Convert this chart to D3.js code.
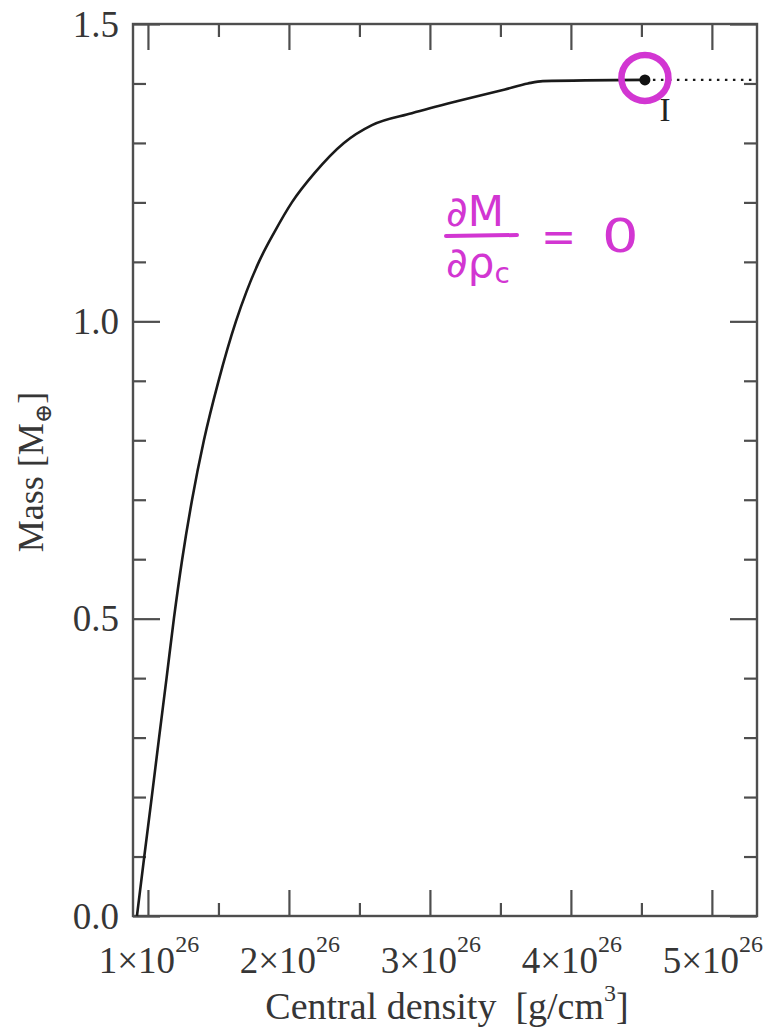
<!DOCTYPE html>
<html>
<head>
<meta charset="utf-8">
<script src="https://cdn.jsdelivr.net/npm/d3@7"></script>
<style>
  body { margin: 0; background: #fff; }
  svg { display: block; }
</style>
</head>
<body>
<svg id="chart" width="767" height="1033"></svg>
<script>
// Mass of the star versus its central density (density in units of 1e26 g/cm^3)
const densities = [0.922, 0.974, 1.027, 1.079, 1.132, 1.184, 1.243, 1.313, 1.397, 1.501,
                   1.624, 1.699, 1.787, 1.897, 2.021, 2.184, 2.390, 2.589, 2.872, 3.191,
                   3.532, 3.695, 3.801, 4.525];
const masses    = [0.000, 0.100, 0.200, 0.300, 0.400, 0.500, 0.600, 0.700, 0.800, 0.900,
                   1.000, 1.050, 1.100, 1.150, 1.200, 1.250, 1.300, 1.330, 1.350, 1.370,
                   1.390, 1.400, 1.404, 1.406];

// Maximum-mass point and the dotted continuation beyond it
const peakDensity = [4.525];
const peakMass = [1.406];
const continuationDensity = [4.525, 5.32];

const xMajorTicks = [1, 2, 3, 4, 5];
const xMinorTicks = [1.5, 2.5, 3.5, 4.5];
const yMajorTicks = [0, 0.5, 1.0, 1.5];
const yMinorTicks = [0.1, 0.2, 0.3, 0.4, 0.6, 0.7, 0.8, 0.9, 1.1, 1.2, 1.3, 1.4];

const plotLeft = 133, plotRight = 757, plotTop = 24, plotBottom = 916;
const axisColor = "#4e4e4e";
const textColor = "#363636";
const ink = "#d236d2";
const serif = "'Liberation Serif', 'DejaVu Serif', serif";

const svg = d3.select("#chart");

const x = d3.scaleLinear().domain([0.894, 5.32]).range([plotLeft, plotRight]);
const y = d3.scaleLinear().domain([0, 1.5]).range([plotBottom, plotTop]);

const W = plotRight - plotLeft, H = plotBottom - plotTop;

// Ticks on all four sides, pointing inwards
function tickAxesX(values, len) {
  svg.append("g").attr("transform", `translate(0,${plotBottom})`)
    .call(d3.axisBottom(x).tickValues(values).tickSize(-len).tickFormat(""));
  svg.append("g").attr("transform", `translate(0,${plotTop})`)
    .call(d3.axisTop(x).tickValues(values).tickSize(-len).tickFormat(""));
}
function tickAxesY(values, len) {
  svg.append("g").attr("transform", `translate(${plotLeft},0)`)
    .call(d3.axisLeft(y).tickValues(values).tickSize(-len).tickFormat(""));
  svg.append("g").attr("transform", `translate(${plotRight},0)`)
    .call(d3.axisRight(y).tickValues(values).tickSize(-len).tickFormat(""));
}
tickAxesX(xMajorTicks, 26);
tickAxesX(xMinorTicks, 13);
tickAxesY(yMajorTicks, 27);
tickAxesY(yMinorTicks, 13);

svg.selectAll(".domain").remove();
svg.selectAll(".tick line").attr("stroke", axisColor).attr("stroke-width", 2.2);

// Frame
svg.append("rect")
  .attr("x", plotLeft).attr("y", plotTop).attr("width", W).attr("height", H)
  .attr("fill", "none").attr("stroke", axisColor).attr("stroke-width", 2.4);

// Y tick labels
svg.append("g").selectAll("text").data(yMajorTicks).join("text")
  .attr("x", plotLeft - 14).attr("y", d => y(d))
  .attr("dy", "0.34em")
  .attr("text-anchor", "end")
  .attr("font-family", serif).attr("font-size", 37).attr("fill", textColor)
  .text(d => d.toFixed(1));

// X tick labels: n×10^26
const xl = svg.append("g").selectAll("text").data(xMajorTicks).join("text")
  .attr("x", d => x(d) + 1).attr("y", 973)
  .attr("text-anchor", "middle")
  .attr("font-family", serif).attr("font-size", 37).attr("fill", textColor);
xl.append("tspan").text(d => `${d}×10`);
xl.append("tspan").attr("dy", -21).attr("font-size", 24).text("26");

// Axis titles
const xt = svg.append("text")
  .attr("x", (262 + 632) / 2).attr("y", 1019)
  .attr("text-anchor", "middle")
  .attr("font-family", serif).attr("font-size", 38).attr("fill", textColor);
xt.append("tspan").text("Central density\u00a0\u00a0[g/cm");
xt.append("tspan").attr("dy", -18).attr("font-size", 24).text("3");
xt.append("tspan").attr("dy", 18).text("]");

const yt = svg.append("text")
  .attr("transform", `translate(43,${(plotTop + plotBottom) / 2 + 2}) rotate(-90)`)
  .attr("text-anchor", "middle")
  .attr("font-family", serif).attr("font-size", 36).attr("fill", textColor);
yt.append("tspan").text("Mass\u00a0[M");
yt.append("tspan").attr("dy", 8).attr("font-size", 23).text("⊕");
yt.append("tspan").attr("dy", -8).text("]");

// Mass curve
const line = d3.line().x(d => x(d[0])).y(d => y(d[1]));
const smoothLine = d3.line().x(d => x(d[0])).y(d => y(d[1])).curve(d3.curveMonotoneX);
svg.append("path")
  .datum(d3.zip(densities, masses))
  .attr("d", smoothLine)
  .attr("fill", "none").attr("stroke", "#1a1a1a").attr("stroke-width", 2.6)
  .attr("stroke-linejoin", "round");

// Dotted continuation past the maximum
svg.append("path")
  .datum(continuationDensity.map(d => [d, peakMass[0]]))
  .attr("d", line)
  .attr("fill", "none").attr("stroke", "#1a1a1a").attr("stroke-width", 2.4)
  .attr("stroke-dasharray", "2.5,5.5");

// Maximum-mass point
svg.append("circle")
  .attr("cx", x(peakDensity[0])).attr("cy", y(peakMass[0]))
  .attr("r", 5.5).attr("fill", "#111");

svg.append("text")
  .attr("x", x(peakDensity[0]) + 20).attr("y", y(peakMass[0]) + 41)
  .attr("text-anchor", "middle")
  .attr("font-family", serif).attr("font-size", 33).attr("fill", "#222")
  .text("I");

// Hand-drawn marking around the maximum
svg.append("ellipse")
  .attr("cx", x(peakDensity[0])).attr("cy", y(peakMass[0]) - 2)
  .attr("rx", 23.5).attr("ry", 23)
  .attr("fill", "none").attr("stroke", ink).attr("stroke-width", 6.5);

// dM/dρc = 0
const note = svg.append("g").attr("fill", ink).attr("font-family", "'DejaVu Sans', sans-serif");
note.append("text").attr("x", 446).attr("y", 226).attr("font-size", 42).text("∂M");
note.append("line").attr("x1", 446).attr("x2", 517).attr("y1", 236).attr("y2", 235)
  .attr("stroke", ink).attr("stroke-width", 4).attr("stroke-linecap", "round");
const den = note.append("text").attr("x", 446).attr("y", 277).attr("font-size", 42);
den.append("tspan").text("∂ρ");
den.append("tspan").attr("dy", 6).attr("font-size", 28).text("c");
note.append("text").attr("x", 541).attr("y", 251).attr("font-size", 42).text("=");
note.append("text").attr("transform", "translate(602,252) scale(1.25,1)").attr("font-size", 46).text("0");
</script>
</body>
</html>
